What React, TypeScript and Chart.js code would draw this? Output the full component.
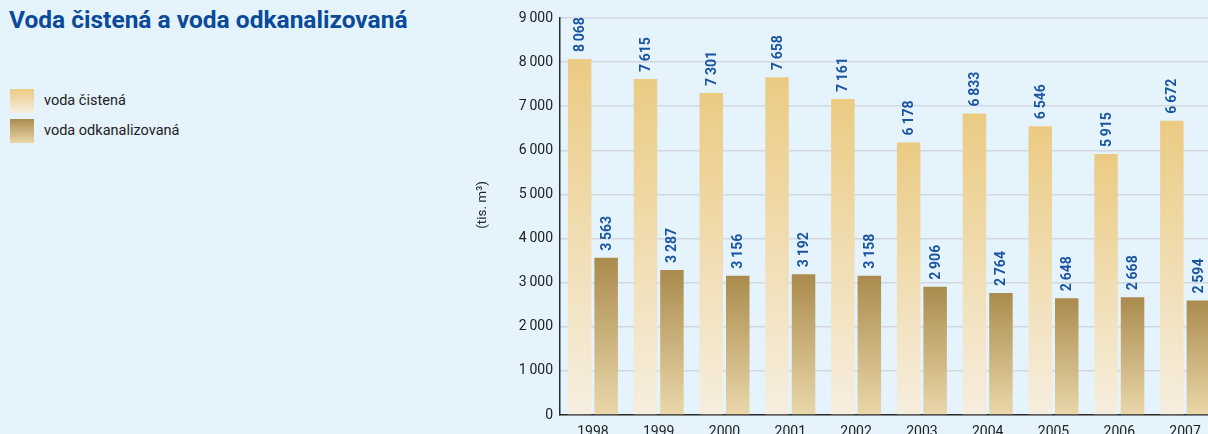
import React, { useEffect, useRef } from "react";
import { Chart, registerables } from "chart.js";

Chart.register(...registerables);

const years = ["1998", "1999", "2000", "2001", "2002", "2003", "2004", "2005", "2006", "2007"];
const cleanWater = [8068, 7615, 7301, 7658, 7161, 6178, 6833, 6546, 5915, 6672];
const sewageWater = [3563, 3287, 3156, 3192, 3158, 2906, 2764, 2648, 2668, 2594];
const yMin = 0;
const yMax = 9000;
const yStep = 1000;

const titleText = "Voda čistená a voda odkanalizovaná";
const seriesNames = ["voda čistená", "voda odkanalizovaná"];
const yAxisTitle = "(tis. m³)";

const BG = "#e5f3fc";
const FONT = "Roboto, 'Noto Sans', sans-serif";
const gradA = ["#ebcb83", "#f6eedf"];
const gradB = ["#aa8b4d", "#ead7aa"];

const fmt = (v: number) => {
  const s = String(v);
  return s.length > 3 ? s.slice(0, s.length - 3) + "\u2009" + s.slice(s.length - 3) : s;
};

const gradientFor = (stops: string[]) => (c: any) => {
  const chart = c.chart;
  if (!chart.chartArea || c.type !== "data") return stops[0];
  const y = chart.scales.y;
  const top = y.getPixelForValue(c.raw);
  const bottom = y.getPixelForValue(0);
  const g = chart.ctx.createLinearGradient(0, top, 0, bottom);
  g.addColorStop(0, stops[0]);
  g.addColorStop(1, stops[1]);
  return g;
};

const barLabels = {
  id: "barLabels",
  afterDatasetsDraw(chart: any) {
    const ctx = chart.ctx;
    ctx.save();
    ctx.font = `bold 14px ${FONT}`;
    ctx.fillStyle = "#1b55a2";
    ctx.textAlign = "left";
    ctx.textBaseline = "middle";
    chart.data.datasets.forEach((ds: any, i: number) => {
      chart.getDatasetMeta(i).data.forEach((bar: any, j: number) => {
        ctx.save();
        ctx.translate(bar.x + 1, bar.y - 7);
        ctx.rotate(-Math.PI / 2);
        ctx.fillText(fmt(ds.data[j]), 0, 0);
        ctx.restore();
      });
    });
    ctx.restore();
  },
};

const axisTitle = {
  id: "axisTitle",
  afterDraw(chart: any) {
    const ctx = chart.ctx;
    ctx.save();
    ctx.font = `13.5px ${FONT}`;
    ctx.fillStyle = "#222";
    ctx.textAlign = "center";
    ctx.textBaseline = "middle";
    ctx.translate(23, 205);
    ctx.rotate(-Math.PI / 2);
    ctx.fillText(yAxisTitle, 0, 0);
    ctx.restore();
  },
};

function BarChart() {
  const ref = useRef<HTMLCanvasElement>(null);
  useEffect(() => {
    if (!ref.current) return;
    const chart = new Chart(ref.current, {
      type: "bar",
      data: {
        labels: years,
        datasets: [
          { label: seriesNames[0], data: cleanWater, backgroundColor: gradientFor(gradA), borderWidth: 0 },
          { label: seriesNames[1], data: sewageWater, backgroundColor: gradientFor(gradB), borderWidth: 0 },
        ],
      },
      options: {
        animation: false,
        responsive: false,
        maintainAspectRatio: false,
        layout: { padding: { top: 18, right: 12, left: 0, bottom: 0 } },
        datasets: { bar: { categoryPercentage: 0.805, barPercentage: 0.887 } },
        plugins: { legend: { display: false }, tooltip: { enabled: false }, title: { display: false } },
        scales: {
          x: {
            grid: { display: false, drawTicks: false },
            border: { display: true, color: "#2b2b2b", width: 1.5 },
            ticks: { color: "#222", font: { family: FONT, size: 14 }, padding: 9, maxRotation: 0 },
            afterFit: (s: any) => { s.height = 35; },
          },
          y: {
            min: yMin,
            max: yMax,
            grid: { color: "#d3d8df", lineWidth: 1.5, drawTicks: false },
            border: { display: true, color: "#2b2b2b", width: 1.5 },
            ticks: {
              stepSize: yStep,
              color: "#222",
              font: { family: FONT, size: 14 },
              padding: 7,
              callback: (v: any) => fmt(Number(v)),
            },
            afterFit: (s: any) => { s.width = 100; },
          },
        },
      },
      plugins: [barLabels, axisTitle],
    });
    return () => chart.destroy();
  }, []);
  return (
    <canvas
      ref={ref}
      width={770}
      height={450}
      style={{ position: "absolute", left: 460, top: 0, width: 770, height: 450 }}
    />
  );
}

export default function App() {
  const box = (stops: string[]) => ({
    position: "absolute" as const,
    left: 10,
    width: 24,
    height: 24,
    background: `linear-gradient(to bottom, ${stops[0]}, ${stops[1]})`,
  });
  const label = (top: number) => ({
    position: "absolute" as const,
    left: 44,
    top,
    fontFamily: FONT,
    fontSize: 14.5,
    color: "#222",
    lineHeight: "24px",
  });
  return (
    <div style={{ position: "fixed", left: 0, top: 0, width: 1208, height: 434, overflow: "hidden", background: BG }}>
      <div
        style={{
          position: "absolute",
          left: 9,
          top: 5,
          fontFamily: FONT,
          fontWeight: 700,
          fontSize: 24.5,
          color: "#0b4a9a",
          whiteSpace: "nowrap",
          letterSpacing: 0,
        }}
      >
        {titleText}
      </div>
      <div style={{ ...box(gradA), top: 89 }} />
      <div style={label(89)}>{seriesNames[0]}</div>
      <div style={{ ...box(gradB), top: 119 }} />
      <div style={label(119)}>{seriesNames[1]}</div>
      <BarChart />
    </div>
  );
}
